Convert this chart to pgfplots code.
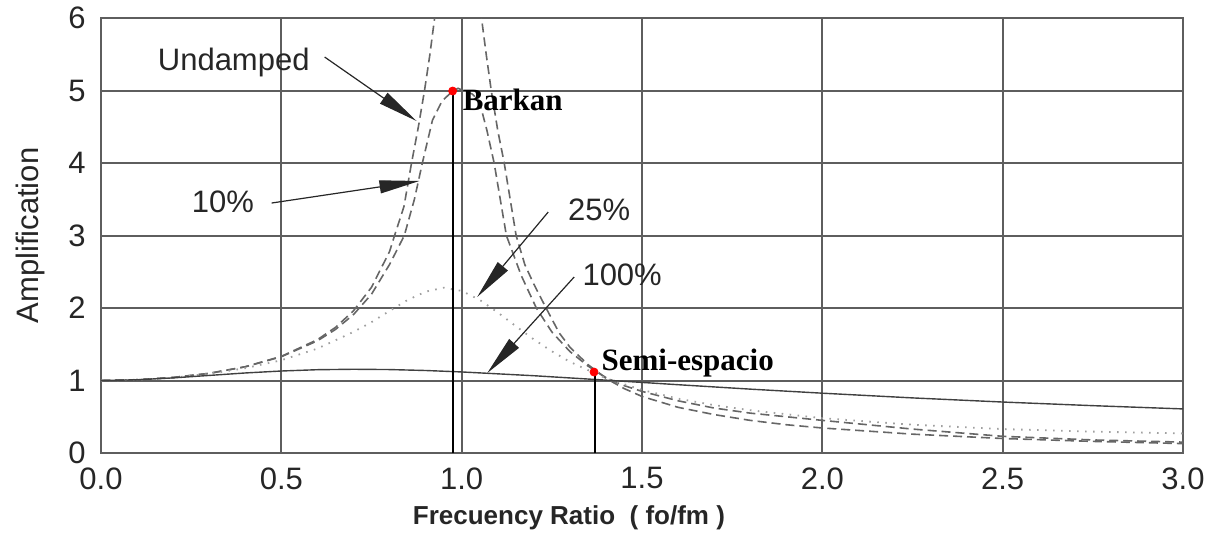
\documentclass[border=0pt]{standalone}
\usepackage{fontspec}
\setmainfont{Liberation Sans}
\newfontfamily\timesfont{Liberation Serif}
\usepackage{pgfplots}
\pgfplotsset{compat=1.18}
\usetikzlibrary{arrows.meta}
\definecolor{gridc}{HTML}{5E5E5E}
\definecolor{curvec}{HTML}{666666}
\definecolor{dotc}{HTML}{A0A0A0}
\definecolor{txtc}{HTML}{262626}
\newcommand{\lbl}{\fontsize{15.5bp}{18bp}\selectfont}
\begin{document}
\begin{tikzpicture}
\path[use as bounding box] (-50.5bp,-42bp) rectangle (558bp,226.5bp);
\begin{axis}[
  scale only axis, width=541bp, height=217.5bp,
  xmin=0, xmax=3, ymin=0, ymax=6,
  xtick={0,0.5,1,1.5,2,2.5,3},
  xticklabels={0.0,0.5,1.0,1.5,2.0,2.5,3.0},
  ytick={0,1,2,3,4,5,6},
  yticklabels={0,1,2,3,4,5,6},
  grid=major,
  major grid style={gridc, line width=1bp},
  axis line style={gridc, line width=1.3bp},
  major tick length=0pt,
  /pgf/number format/assume math mode=true,
  ticklabel style={font=\lbl, text=txtc},
  xticklabel style={anchor=north, inner sep=0pt, yshift=-7bp},
  yticklabel style={anchor=east, inner sep=0pt, xshift=-7.5bp},
  xlabel={\bfseries Frecuency Ratio\ \ ( fo/fm )},
  ylabel={Amplification},
  every axis x label/.style={at={(axis description cs:0.4325,-0.1494)}, anchor=center, font=\fontsize{13bp}{15bp}\selectfont, text=txtc},
  every axis y label/.style={at={(axis description cs:-0.0656,0.5)}, rotate=90, anchor=center, font=\lbl, text=txtc},
]
% Undamped (left branch)
\addplot[curvec, line width=0.8bp, dash pattern=on 4.5bp off 2.5bp] coordinates {
(0,1) (0.1,1.010) (0.2,1.042) (0.3,1.099) (0.4,1.190) (0.5,1.333) (0.6,1.563) (0.65,1.732) (0.7,1.961) (0.75,2.286) (0.8,2.778) (0.814,3.0) (0.84,3.4) (0.861,4.0) (0.88,4.5) (0.897,5.0) (0.912,5.5) (0.925,6.0) (0.935,6.5)};
% Undamped (right branch)
\addplot[curvec, line width=0.8bp, dash pattern=on 4.5bp off 2.5bp] coordinates {
(1.045,6.5) (1.055,6.0) (1.068,5.5) (1.082,5.0) (1.1,4.45) (1.118,4.0) (1.151,3.0) (1.175,2.6) (1.2,2.33) (1.234,2.0) (1.27,1.66) (1.3,1.46) (1.35,1.22) (1.4,1.03) (1.45,0.89) (1.5,0.78) (1.6,0.63) (1.7,0.53) (1.8,0.45) (1.9,0.39) (2.0,0.345) (2.25,0.26) (2.5,0.20) (2.75,0.16) (3.0,0.13)};
% 10%
\addplot[curvec, line width=0.8bp, dash pattern=on 4.5bp off 2.5bp] coordinates {
(0,1) (0.1,1.010) (0.2,1.042) (0.3,1.098) (0.4,1.189) (0.5,1.328) (0.6,1.547) (0.65,1.704) (0.7,1.909) (0.75,2.19) (0.8,2.6) (0.841,3.0) (0.869,3.5) (0.891,4.0) (0.919,4.59) (0.945,4.85) (0.974,4.99) (0.99,5.03) (1.03,4.95) (1.049,4.85) (1.07,4.45) (1.09,4.0) (1.107,3.5) (1.124,3.0) (1.165,2.45) (1.207,2.0) (1.25,1.67) (1.3,1.40) (1.35,1.20) (1.4,1.04) (1.45,0.93) (1.5,0.85) (1.6,0.72) (1.7,0.62) (1.8,0.55) (2.0,0.45) (2.25,0.33) (2.5,0.23) (2.75,0.18) (3.0,0.15)};
% 25%
\addplot[dotc, line width=0.9bp, dash pattern=on 0.8bp off 3.2bp] coordinates {
(0,1) (0.1,1.010) (0.2,1.040) (0.3,1.092) (0.4,1.170) (0.5,1.280) (0.6,1.440) (0.7,1.670) (0.75,1.805) (0.8,1.960) (0.85,2.110) (0.9,2.225) (0.95,2.280) (1.0,2.236) (1.05,2.112) (1.1,1.939) (1.15,1.750) (1.2,1.567) (1.25,1.403) (1.3,1.258) (1.4,1.03) (1.5,0.87) (1.6,0.75) (1.7,0.66) (1.8,0.59) (2.0,0.48) (2.25,0.39) (2.5,0.33) (2.75,0.295) (3.0,0.27)};
% 100%
\addplot[black!75, line width=0.7bp] coordinates {
(0,1) (0.1,1.010) (0.2,1.036) (0.3,1.070) (0.4,1.104) (0.5,1.131) (0.6,1.149) (0.7,1.155) (0.8,1.151) (0.9,1.138) (1.0,1.118) (1.2,1.066) (1.4,1.005) (1.6,0.942) (1.8,0.881) (2.0,0.825) (2.25,0.760) (2.5,0.703) (2.75,0.653) (3.0,0.608)};
% vertical markers
\addplot[black, line width=1bp] coordinates {(0.977,0) (0.977,4.99)};
\addplot[black, line width=1bp] coordinates {(1.369,0) (1.369,1.117)};
\addplot[only marks, mark=*, mark size=2bp, color=red, mark options={draw=red, fill=red}] coordinates {(0.975,4.993) (1.367,1.117)};
% labels
\node[font=\lbl, text=txtc] at (axis cs:0.368,5.393) {Undamped};
\node[font=\lbl, text=txtc] at (axis cs:0.338,3.462) {10\%};
\node[font=\lbl, text=txtc] at (axis cs:1.381,3.352) {25\%};
\node[font=\lbl, text=txtc] at (axis cs:1.445,2.455) {100\%};
\node[font=\timesfont\bfseries\lbl, text=black, anchor=west, inner sep=0pt] at (axis cs:1.002,4.869) {Barkan};
\node[font=\timesfont\bfseries\lbl, text=black, anchor=west, inner sep=0pt] at (axis cs:1.387,1.241) {Semi-espacio};
% arrows
\draw[-{Triangle[length=20bp,width=6.5bp]}, black!85, line width=0.6bp] (axis cs:0.620,5.462) -- (axis cs:0.875,4.579);
\draw[-{Triangle[length=20bp,width=6.5bp]}, black!85, line width=0.6bp] (axis cs:0.473,3.448) -- (axis cs:0.883,3.752);
\draw[-{Triangle[length=20bp,width=6.5bp]}, black!85, line width=0.6bp] (axis cs:1.240,3.324) -- (axis cs:1.043,2.152);
\draw[-{Triangle[length=20bp,width=6.5bp]}, black!85, line width=0.6bp] (axis cs:1.312,2.428) -- (axis cs:1.071,1.103);
\end{axis}
\end{tikzpicture}
\end{document}
